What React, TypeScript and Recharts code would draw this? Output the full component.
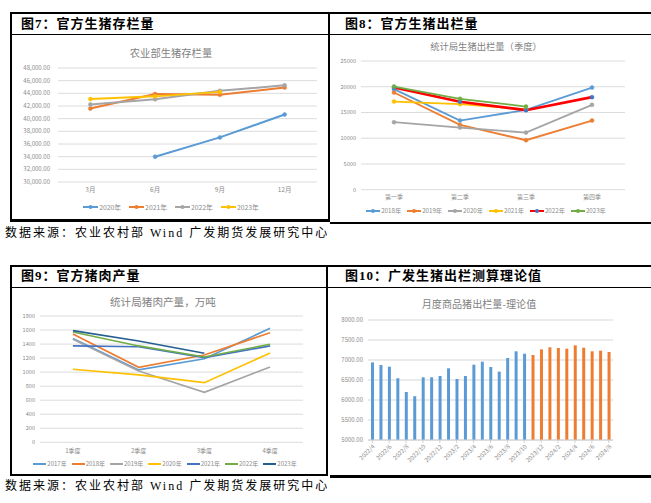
import React from "react";
import { LineChart, Line, BarChart, Bar, Cell, XAxis, YAxis, CartesianGrid } from "recharts";

const CJK = '"Noto Sans CJK SC", "Noto Sans", sans-serif';
const SERIF_CJK = '"Liberation Serif", "Noto Sans CJK SC", serif';
const TICK = "#8a8a8a";
const GRID = "#dcdcdc";

// 图7 农业部生猪存栏量
const stockMonths = ["3月", "6月", "9月", "12月"];
const stock2020 = [null, 34000, 37040, 40650];
const stock2021 = [41600, 43900, 43760, 44920];
const stock2022 = [42250, 43060, 44390, 45260];
const stock2023 = [43090, 43520, 44230, null];
const stockTicks = [30000, 32000, 34000, 36000, 38000, 40000, 42000, 44000, 46000, 48000];

// 图8 统计局生猪出栏量（季度）
const outQuarters = ["第一季", "第二季", "第三季", "第四季"];
const out2018 = [19530, 13420, 15500, 19840];
const out2019 = [18870, 12590, 9610, 13430];
const out2020 = [13110, 12060, 11090, 16480];
const out2021 = [17120, 16610, 15600, null];
const out2022 = [19840, 17100, 15450, 17980];
const out2023 = [20040, 17650, 16150, null];
const outTicks = [0, 5000, 10000, 15000, 20000, 25000];

// 图9 统计局猪肉产量，万吨
const porkQuarters = ["1季度", "2季度", "3季度", "4季度"];
const pork2017 = [1480, 1031, 1190, 1625];
const pork2018 = [1544, 1069, 1244, 1562];
const pork2019 = [1468, 1016, 713, 1073];
const pork2020 = [1041, 960, 850, 1273];
const pork2021 = [1373, 1362, 1206, 1373];
const pork2022 = [1572, 1373, 1216, 1397];
const pork2023 = [1591, 1444, 1269, null];
const porkTicks = [0, 200, 400, 600, 800, 1000, 1200, 1400, 1600, 1800];

// 图10 月度商品猪出栏量-理论值
const theoryMonths = [
  "2022/4", "2022/5", "2022/6", "2022/7", "2022/8", "2022/9", "2022/10", "2022/11", "2022/12",
  "2023/1", "2023/2", "2023/3", "2023/4", "2023/5", "2023/6", "2023/7", "2023/8", "2023/9",
  "2023/10", "2023/11", "2023/12", "2024/1", "2024/2", "2024/3", "2024/4", "2024/5", "2024/6",
  "2024/7", "2024/8"
];
const theoryActual = [
  6940, 6875, 6833, 6545, 6200, 6095, 6567, 6567, 6600, 6792, 6525, 6600, 6883, 6958, 6825,
  6710, 7050, 7217, 7158
];
const theoryForecast = [7125, 7267, 7317, 7300, 7283, 7367, 7308, 7217, 7233, 7200];
const theoryTicks = [5000, 5500, 6000, 6500, 7000, 7500, 8000];

type Series = { name: string; values: (number | null)[]; color: string; dot?: string; width?: number };

const stockSeries: Series[] = [
  { name: "2020年", values: stock2020, color: "#5B9BD5" },
  { name: "2021年", values: stock2021, color: "#ED7D31" },
  { name: "2022年", values: stock2022, color: "#A5A5A5" },
  { name: "2023年", values: stock2023, color: "#FFC000" }
];

const outSeries: Series[] = [
  { name: "2018年", values: out2018, color: "#5B9BD5" },
  { name: "2019年", values: out2019, color: "#ED7D31" },
  { name: "2020年", values: out2020, color: "#A5A5A5" },
  { name: "2021年", values: out2021, color: "#FFC000" },
  { name: "2022年", values: out2022, color: "#FF0000", dot: "#4472C4", width: 2.6 },
  { name: "2023年", values: out2023, color: "#70AD47" }
];

const porkSeries: Series[] = [
  { name: "2017年", values: pork2017, color: "#5B9BD5" },
  { name: "2018年", values: pork2018, color: "#ED7D31" },
  { name: "2019年", values: pork2019, color: "#A5A5A5" },
  { name: "2020年", values: pork2020, color: "#FFC000" },
  { name: "2021年", values: pork2021, color: "#4472C4" },
  { name: "2022年", values: pork2022, color: "#70AD47" },
  { name: "2023年", values: pork2023, color: "#255E91" }
];

const toRows = (labels: string[], series: Series[]) =>
  labels.map((label, i) => {
    const row: Record<string, string | number | null> = { label };
    series.forEach((s) => (row[s.name] = s.values[i]));
    return row;
  });

const theoryRows = theoryMonths.map((month, i) => ({
  month,
  value: i < theoryActual.length ? theoryActual[i] : theoryForecast[i - theoryActual.length],
  forecast: i >= theoryActual.length
}));

const Rule = ({ x, y, w, h }: { x: number; y: number; w: number; h: number }) => (
  <div style={{ position: "absolute", left: x, top: y, width: w, height: h, background: "#000" }} />
);

const Heading = ({ x, y, text }: { x: number; y: number; text: string }) => (
  <div
    style={{
      position: "absolute", left: x, top: y, fontFamily: SERIF_CJK, fontWeight: 700,
      fontSize: 13, letterSpacing: 1, lineHeight: "14px", whiteSpace: "nowrap", color: "#000"
    }}
  >
    {text}
  </div>
);

const Source = ({ y }: { y: number }) => (
  <div
    style={{
      position: "absolute", left: 5, top: y, fontFamily: SERIF_CJK, fontSize: 12,
      letterSpacing: 2, lineHeight: "13px", whiteSpace: "nowrap", color: "#000"
    }}
  >
    数据来源：农业农村部 Wind 广发期货发展研究中心
  </div>
);

const ChartTitle = ({ cx, y, text, size }: { cx: number; y: number; text: string; size: number }) => (
  <div
    style={{
      position: "absolute", left: cx - 100, top: y, width: 200, textAlign: "center",
      fontFamily: CJK, fontSize: size, lineHeight: 1, color: "#7f7f7f", whiteSpace: "nowrap"
    }}
  >
    {text}
  </div>
);

const LegendRow = ({
  series, left, top, width, gap, iconW, fontSize, dots
}: {
  series: Series[]; left: number; top: number; width: number; gap: number; iconW: number; fontSize: number; dots: boolean;
}) => (
  <div
    style={{
      position: "absolute", left, top, width, display: "flex", justifyContent: "center", gap,
      fontFamily: CJK, fontSize, lineHeight: 1, color: "#8a8a8a"
    }}
  >
    {series.map((s) => (
      <div key={s.name} style={{ display: "flex", alignItems: "center" }}>
        <svg width={iconW} height={6}>
          <line x1={0} y1={3} x2={iconW} y2={3} stroke={s.color} strokeWidth={2} />
          {dots && <circle cx={iconW / 2} cy={3} r={2} fill={s.dot ?? s.color} />}
        </svg>
        <span style={{ marginLeft: 1 }}>{s.name}</span>
      </div>
    ))}
  </div>
);

export default function App() {
  const stockRows = toRows(stockMonths, stockSeries);
  const outRows = toRows(outQuarters, outSeries);
  const porkRows = toRows(porkQuarters, porkSeries);

  return (
    <div style={{ position: "absolute", left: 0, top: 0, width: 651, height: 503, background: "#fff", overflow: "hidden", fontFamily: CJK }}>
      {/* top frames */}
      <Rule x={10} y={12} w={641} h={2} />
      <Rule x={10} y={34} w={641} h={1} />
      <Rule x={10} y={12} w={2} h={209} />
      <Rule x={328} y={12} w={2} h={209} />
      <Rule x={10} y={219} w={320} h={2.5} />
      <Rule x={330} y={221.5} w={321} h={2.5} />
      <Heading x={21} y={17} text="图7：官方生猪存栏量" />
      <Heading x={345} y={17} text="图8：官方生猪出栏量" />
      <Source y={227} />

      {/* bottom frames */}
      <Rule x={10} y={265} w={641} h={2} />
      <Rule x={10} y={287} w={641} h={1} />
      <Rule x={10} y={265} w={2} h={211} />
      <Rule x={326} y={265} w={2} h={211} />
      <Rule x={10} y={474} w={318} h={2} />
      <Rule x={330} y={475} w={321} h={2.5} />
      <Heading x={21} y={269} text="图9：官方猪肉产量" />
      <Heading x={345} y={269} text="图10：广发生猪出栏测算理论值" />
      <Source y={480} />

      {/* 图7 */}
      <ChartTitle cx={171} y={48} text="农业部生猪存栏量" size={10.3} />
      <div style={{ position: "absolute", left: 12, top: 36 }}>
        <LineChart width={318} height={184} data={stockRows} margin={{ top: 32, right: 13, bottom: 26, left: 0 }}>
          <CartesianGrid vertical={false} stroke={GRID} />
          <XAxis dataKey="label" axisLine={false} tickLine={false} tickSize={0} tickMargin={5} height={12}
            interval={0} padding={{ left: 32.4, right: 32.4 }} tick={{ fill: TICK, fontSize: 6.5 }} />
          <YAxis type="number" domain={[30000, 48000]} ticks={stockTicks} axisLine={false} tickLine={false}
            tickSize={0} tickMargin={8} width={46} interval={0} tick={{ fill: TICK, fontSize: 6 }}
            tickFormatter={(v: number) => v.toLocaleString("en-US", { minimumFractionDigits: 2 })} />
          {stockSeries.map((s) => (
            <Line key={s.name} dataKey={s.name} stroke={s.color} strokeWidth={2} isAnimationActive={false}
              dot={{ r: 2, fill: s.color, stroke: s.color, strokeWidth: 0.5 }} />
          ))}
        </LineChart>
      </div>
      <LegendRow series={stockSeries} left={12} top={203.5} width={318} gap={8} iconW={15} fontSize={6.8} dots />

      {/* 图8 */}
      <ChartTitle cx={486} y={42} text="统计局生猪出栏量（季度）" size={9.3} />
      <div style={{ position: "absolute", left: 331, top: 36 }}>
        <LineChart width={320} height={186} data={outRows} margin={{ top: 25, right: 26, bottom: 20, left: 0 }}>
          <CartesianGrid vertical={false} stroke={GRID} />
          <XAxis dataKey="label" axisLine={false} tickLine={false} tickSize={0} tickMargin={5} height={12.3}
            interval={0} padding={{ left: 33, right: 33 }} tick={{ fill: TICK, fontSize: 6 }} />
          <YAxis type="number" domain={[0, 25000]} ticks={outTicks} axisLine={false} tickLine={false}
            tickSize={0} tickMargin={5} width={30} interval={0} tick={{ fill: TICK, fontSize: 5.6 }} />
          {outSeries.map((s) => (
            <Line key={s.name} dataKey={s.name} stroke={s.color} strokeWidth={s.width ?? 1.8} isAnimationActive={false}
              dot={{ r: 2, fill: s.dot ?? s.color, stroke: s.dot ?? s.color, strokeWidth: 0.5 }} />
          ))}
        </LineChart>
      </div>
      <LegendRow series={outSeries} left={331} top={207.5} width={310} gap={6} iconW={14} fontSize={6.2} dots />

      {/* 图9 */}
      <ChartTitle cx={163} y={296.5} text="统计局猪肉产量，万吨" size={10.6} />
      <div style={{ position: "absolute", left: 12, top: 288 }}>
        <LineChart width={316} height={187} data={porkRows} margin={{ top: 28, right: 25, bottom: 20.4, left: 0 }}>
          <CartesianGrid vertical={false} stroke={GRID} />
          <XAxis dataKey="label" axisLine={false} tickLine={false} tickSize={0} tickMargin={6} height={12.3}
            interval={0} padding={{ left: 32.9, right: 32.9 }} tick={{ fill: TICK, fontSize: 6 }} />
          <YAxis type="number" domain={[0, 1800]} ticks={porkTicks} axisLine={false} tickLine={false}
            tickSize={0} tickMargin={5} width={28} interval={0} tick={{ fill: TICK, fontSize: 5.6 }} />
          {porkSeries.map((s) => (
            <Line key={s.name} dataKey={s.name} stroke={s.color} strokeWidth={1.7} dot={false} isAnimationActive={false} />
          ))}
        </LineChart>
      </div>
      <LegendRow series={porkSeries} left={12} top={461} width={306} gap={5} iconW={13} fontSize={6} dots={false} />

      {/* 图10 */}
      <ChartTitle cx={479} y={299} text="月度商品猪出栏量-理论值" size={10.1} />
      <div style={{ position: "absolute", left: 331, top: 288 }}>
        <BarChart width={320} height={188} data={theoryRows} margin={{ top: 32, right: 38, bottom: 0, left: 0 }}>
          <CartesianGrid vertical={false} stroke="#e4e4e4" strokeWidth={1.3} />
          <XAxis dataKey="month" interval={1} axisLine={{ stroke: "#d0d0d0" }} tickLine={{ stroke: "#d0d0d0" }}
            tickSize={3} tickMargin={1} height={36} angle={-45} textAnchor="end"
            tick={{ fill: TICK, fontSize: 6 }} />
          <YAxis type="number" domain={[5000, 8000]} ticks={theoryTicks} axisLine={false} tickLine={false}
            tickSize={0} tickMargin={5} width={37} interval={0} tick={{ fill: TICK, fontSize: 6 }}
            tickFormatter={(v: number) => v.toFixed(2)} />
          <Bar dataKey="value" barSize={3} isAnimationActive={false}>
            {theoryRows.map((r) => (
              <Cell key={r.month} fill={r.forecast ? "#ED7D31" : "#5B9BD5"} />
            ))}
          </Bar>
        </BarChart>
      </div>
    </div>
  );
}
